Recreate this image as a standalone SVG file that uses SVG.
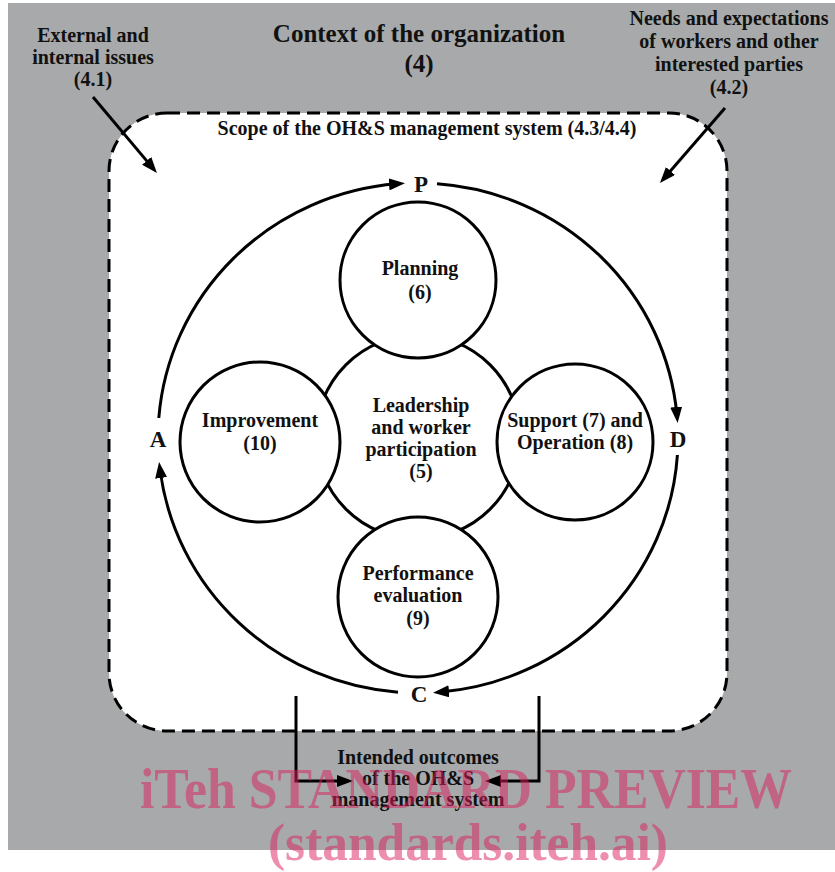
<svg xmlns="http://www.w3.org/2000/svg" width="835" height="872" viewBox="0 0 835 872">
  <style>
    text { font-family: "Liberation Serif", "Times New Roman", serif; font-weight: bold; fill: #111; text-anchor: middle; }
    .lbl { font-size: 20px; }
    .big { font-size: 23px; }
    .title { font-size: 25px; }
    .circ { fill: #fff; stroke: #000; stroke-width: 3; }
    .conn { fill: none; stroke: #000; stroke-width: 3; }
    .wm { font-family: "Liberation Serif", serif; font-weight: bold; fill: #dc1e5a; fill-opacity: 0.5; }
  </style>
  <defs>
    <marker id="ah" markerUnits="userSpaceOnUse" markerWidth="16" markerHeight="12" refX="8" refY="6" orient="auto" viewBox="0 0 16 12">
      <path d="M0,0 L16,6 L0,12 z" fill="#000"/>
    </marker>
  </defs>
  <rect x="8" y="3" width="827" height="847" fill="#a7a9aa"/>
  <g id="scope">
    <rect x="109" y="113" width="618" height="618" rx="58" ry="58" fill="#fff" stroke="#000" stroke-width="3" stroke-dasharray="13 7"/>
    <text class="lbl" x="427" y="135">Scope of the OH&amp;S management system (4.3/4.4)</text>
  </g>
  <g id="context">
    <text class="title" x="419" y="42">Context of the organization</text>
    <text class="title" x="419" y="72">(4)</text>
  </g>
  <g id="external">
    <text class="lbl" x="93" y="42">External and</text>
    <text class="lbl" x="93" y="64">internal issues</text>
    <text class="lbl" x="93" y="86">(4.1)</text>
  </g>
  <g id="needs">
    <text class="lbl" x="729" y="25">Needs and expectations</text>
    <text class="lbl" x="729" y="48">of workers and other</text>
    <text class="lbl" x="729" y="71">interested parties</text>
    <text class="lbl" x="729" y="94">(4.2)</text>
  </g>
  <g id="leadership">
    <circle class="circ" cx="418" cy="437" r="102"/>
    <text class="lbl" x="421" y="412">Leadership</text>
    <text class="lbl" x="421" y="434">and worker</text>
    <text class="lbl" x="421" y="456">participation</text>
    <text class="lbl" x="421" y="478">(5)</text>
  </g>
  <g id="planning">
    <circle class="circ" cx="418" cy="280" r="78"/>
    <text class="lbl" x="420" y="275">Planning</text>
    <text class="lbl" x="420" y="299">(6)</text>
  </g>
  <g id="improvement">
    <circle class="circ" cx="260" cy="442" r="80"/>
    <text class="lbl" x="260" y="427">Improvement</text>
    <text class="lbl" x="260" y="450">(10)</text>
  </g>
  <g id="support">
    <circle class="circ" cx="575" cy="442" r="78"/>
    <text class="lbl" x="575" y="427">Support (7) and</text>
    <text class="lbl" x="575" y="449">Operation (8)</text>
  </g>
  <g id="performance">
    <circle class="circ" cx="418" cy="597" r="80"/>
    <text class="lbl" x="418" y="580">Performance</text>
    <text class="lbl" x="418" y="602">evaluation</text>
    <text class="lbl" x="418" y="625">(9)</text>
  </g>
  <g id="pdca-labels">
    <text class="big" x="421" y="192">P</text>
    <text class="big" x="678" y="447">D</text>
    <text class="big" x="419" y="702">C</text>
    <text class="big" x="158" y="447">A</text>
  </g>
  <g id="outcomes">
    <text class="lbl" x="418" y="764">Intended outcomes</text>
    <text class="lbl" x="418" y="785">of the OH&amp;S</text>
    <text class="lbl" x="418" y="806">management system</text>
  </g>
  <g id="connectors">
    <path class="conn" d="M158.8,418 A260,255 0 0 1 397,183.8" marker-end="url(#ah)"/>
    <path class="conn" d="M437,183.7 A260,255 0 0 1 676.9,415" marker-end="url(#ah)"/>
    <path class="conn" d="M677.4,455 A260,255 0 0 1 441,692" marker-end="url(#ah)"/>
    <path class="conn" d="M398,692.2 A260,255 0 0 1 160.1,470" marker-end="url(#ah)"/>
    <path class="conn" d="M93,97 L151.8,166.9" marker-end="url(#ah)"/>
    <path class="conn" d="M725,108 L665.2,177" marker-end="url(#ah)"/>
    <path class="conn" d="M296,696 V781 H345" marker-end="url(#ah)"/>
    <path class="conn" d="M539,696 V781 H493" marker-end="url(#ah)"/>
  </g>
  <g id="watermark">
    <text class="wm" x="466" y="808" font-size="58" textLength="652" lengthAdjust="spacingAndGlyphs">iTeh STANDARD PREVIEW</text>
    <text class="wm" x="468" y="860" font-size="52" textLength="400" lengthAdjust="spacingAndGlyphs">(standards.iteh.ai)</text>
  </g>
</svg>
